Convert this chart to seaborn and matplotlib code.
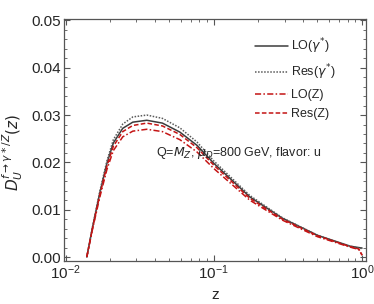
import numpy as np
import pandas as pd
import matplotlib
matplotlib.use("Agg")
from matplotlib import pyplot as plt
from matplotlib.ticker import MultipleLocator, LogLocator, NullFormatter
import seaborn as sns

# Data

z = [0.0139, 0.0152, 0.017, 0.019, 0.021, 0.0243, 0.0284, 0.0353, 0.045,
     0.059, 0.077, 0.1, 0.175, 0.29, 0.5, 0.83, 0.95, 1.0]
lo_gamma = [0, 0.0063, 0.0135, 0.0198, 0.0241, 0.0272, 0.0285, 0.0289, 0.0283,
            0.0264, 0.0236, 0.0198, 0.0127, 0.0082, 0.0046, 0.0023, 0.0020, 0.0019]
res_gamma = [0, 0.0064, 0.0138, 0.0203, 0.0248, 0.0281, 0.0296, 0.0300, 0.0293,
             0.0273, 0.0243, 0.0203, 0.0130, 0.0083, 0.0046, 0.0023, 0.0019, 0.0018]
lo_z = [0, 0.0059, 0.0126, 0.0185, 0.0225, 0.0254, 0.0266, 0.0270, 0.0265,
        0.0248, 0.0222, 0.0187, 0.0120, 0.0078, 0.0043, 0.0021, 0.0016, 0.0004]
res_z = [0, 0.0061, 0.0131, 0.0192, 0.0234, 0.0265, 0.0278, 0.0283, 0.0277,
         0.0259, 0.0231, 0.0194, 0.0124, 0.0080, 0.0045, 0.0022, 0.0017, 0.0004]

labels = [r'LO($\gamma^{*}$)', r'Res($\gamma^{*}$)', 'LO(Z)', 'Res(Z)']
series = [lo_gamma, res_gamma, lo_z, res_z]

df = pd.concat([pd.DataFrame({'z': z, 'D': s, 'curve': lab})
                for s, lab in zip(series, labels)], ignore_index=True)

sns.set_style('ticks')
plt.rcParams['font.family'] = ['Liberation Sans', 'DejaVu Sans']
plt.rcParams['mathtext.fontset'] = 'dejavusans'

fig = plt.figure(figsize=(3.74, 3.04), dpi=100)
ax = fig.add_axes([0.171, 0.142, 0.808, 0.794])

palette = {labels[0]: '#3c3c3c', labels[1]: '#5a5a5a',
           labels[2]: '#c41414', labels[3]: '#c41414'}
dashes = {labels[0]: '', labels[1]: (1, 1), labels[2]: (4, 1.5, 1, 1.5),
          labels[3]: (3, 1.5)}

sns.lineplot(data=df, x='z', y='D', hue='curve', style='curve',
             palette=palette, dashes=dashes, linewidth=1.1, ax=ax,
             estimator=None, sort=False)

ax.set_xscale('log')
ax.set_xlim(0.00975, 1.065)
ax.set_ylim(-0.0008, 0.0502)
ax.yaxis.set_major_locator(MultipleLocator(0.01))
ax.yaxis.set_minor_locator(MultipleLocator(0.002))
ax.yaxis.set_major_formatter(matplotlib.ticker.FormatStrFormatter('%.2f'))
ax.xaxis.set_major_locator(LogLocator(base=10, numticks=5))
ax.xaxis.set_minor_locator(LogLocator(base=10, subs=np.arange(2, 10), numticks=20))
ax.xaxis.set_minor_formatter(NullFormatter())

ax.tick_params(which='both', direction='in', top=True, right=True,
               color='#555555', labelsize=11, pad=2)
ax.tick_params(which='major', length=4, width=0.8)
ax.tick_params(which='minor', length=2, width=0.6)
for sp in ax.spines.values():
    sp.set_color('#555555')
    sp.set_linewidth(0.9)

ax.set_xlabel('z', fontsize=11, labelpad=4)
ax.set_ylabel(r'$D_U^{f\to\gamma*/Z}(z)$', fontsize=11, labelpad=2)
ax.yaxis.set_label_coords(-0.13, 0.45)

ax.text(0.0405, 0.0214, r'Q=$M_Z$, $\mu_D$=800 GeV, flavor: u', fontsize=9,
        va='baseline')

leg = ax.legend(loc='upper right', bbox_to_anchor=(0.9, 0.93), frameon=False,
                fontsize=9, handlelength=2.6, labelspacing=0.55,
                handletextpad=0.3, borderaxespad=0, borderpad=0)
leg.set_title(None)

fig.savefig('out.png', dpi=100)
